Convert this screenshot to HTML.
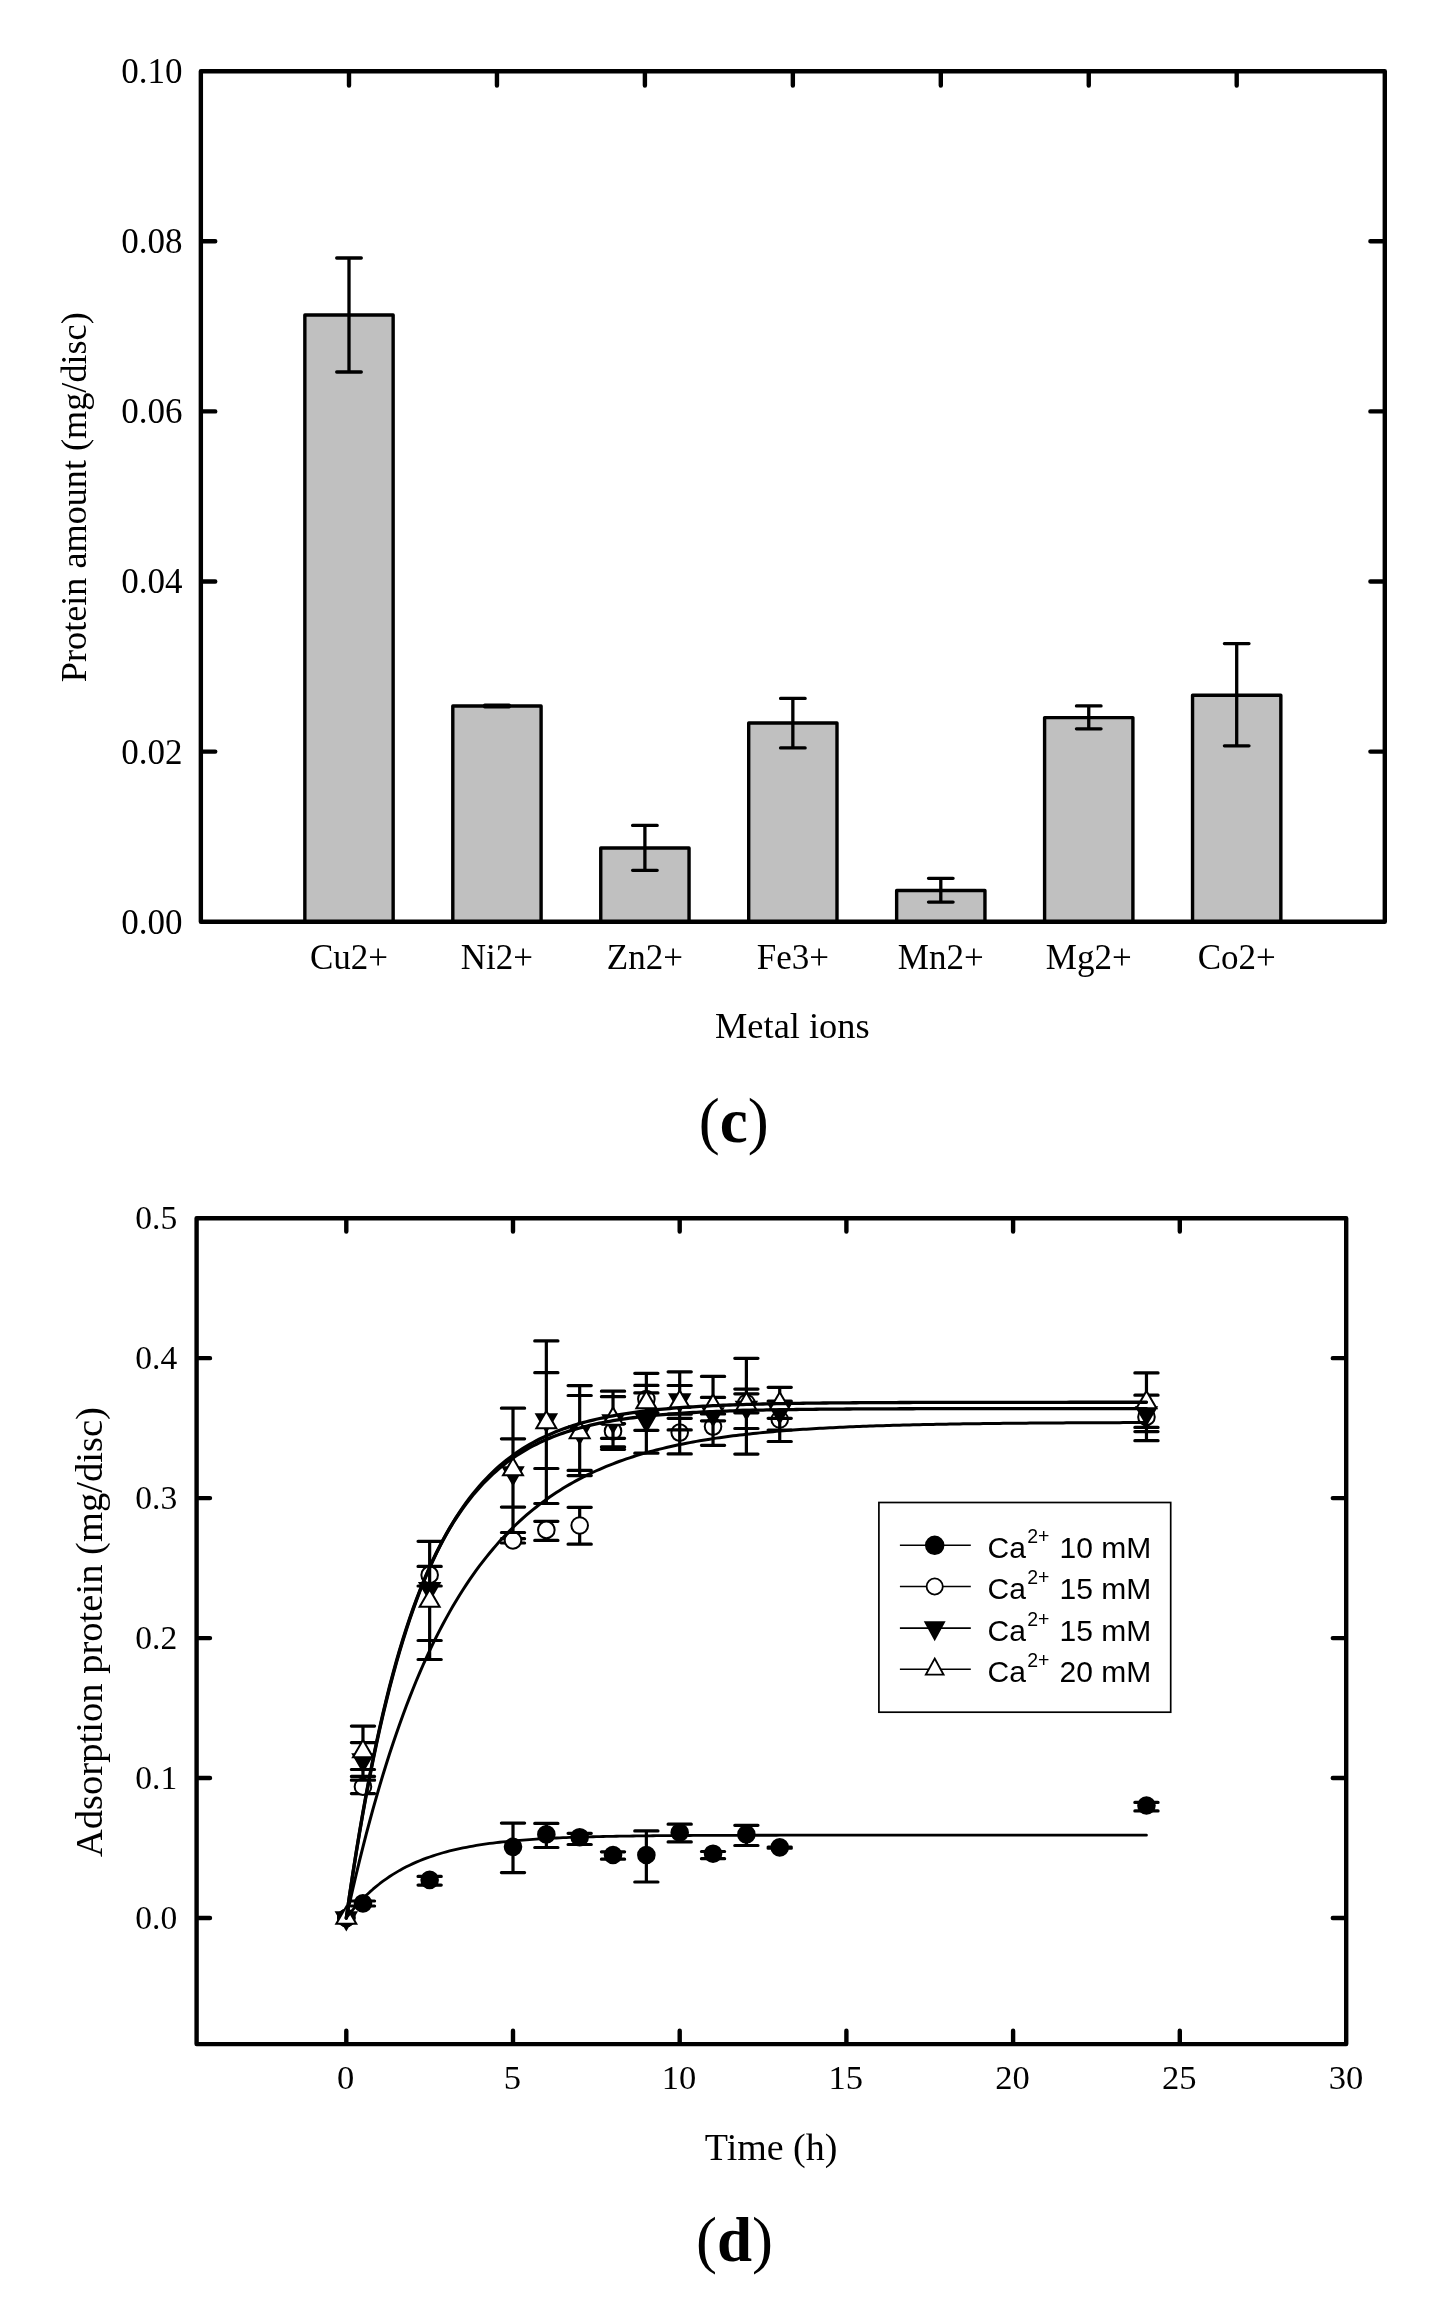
<!DOCTYPE html>
<html><head><meta charset="utf-8"><style>
html,body{margin:0;padding:0;background:#fff;}
svg{display:block;will-change:transform;}
</style></head><body>
<svg width="1452" height="2310" viewBox="0 0 1452 2310">
<rect width="1452" height="2310" fill="#fff"/>
<rect x="304.85" y="315.00" width="88.30" height="606.70" fill="#c0c0c0" stroke="#000" stroke-width="3.4" stroke-linejoin="round"/>
<rect x="452.80" y="706.00" width="88.30" height="215.70" fill="#c0c0c0" stroke="#000" stroke-width="3.4" stroke-linejoin="round"/>
<rect x="600.75" y="848.00" width="88.30" height="73.70" fill="#c0c0c0" stroke="#000" stroke-width="3.4" stroke-linejoin="round"/>
<rect x="748.70" y="723.00" width="88.30" height="198.70" fill="#c0c0c0" stroke="#000" stroke-width="3.4" stroke-linejoin="round"/>
<rect x="896.65" y="890.50" width="88.30" height="31.20" fill="#c0c0c0" stroke="#000" stroke-width="3.4" stroke-linejoin="round"/>
<rect x="1044.60" y="717.60" width="88.30" height="204.10" fill="#c0c0c0" stroke="#000" stroke-width="3.4" stroke-linejoin="round"/>
<rect x="1192.55" y="695.30" width="88.30" height="226.40" fill="#c0c0c0" stroke="#000" stroke-width="3.4" stroke-linejoin="round"/>
<path d="M349.00 258.00V372.00M336.70 258.00H361.30M336.70 372.00H361.30" stroke="#000" stroke-width="3.3" stroke-linecap="round" fill="none"/>
<path d="M496.95 705.20V706.80M484.65 705.20H509.25M484.65 706.80H509.25" stroke="#000" stroke-width="3.3" stroke-linecap="round" fill="none"/>
<path d="M644.90 825.40V870.30M632.60 825.40H657.20M632.60 870.30H657.20" stroke="#000" stroke-width="3.3" stroke-linecap="round" fill="none"/>
<path d="M792.85 698.40V747.90M780.55 698.40H805.15M780.55 747.90H805.15" stroke="#000" stroke-width="3.3" stroke-linecap="round" fill="none"/>
<path d="M940.80 878.30V902.10M928.50 878.30H953.10M928.50 902.10H953.10" stroke="#000" stroke-width="3.3" stroke-linecap="round" fill="none"/>
<path d="M1088.75 705.90V728.80M1076.45 705.90H1101.05M1076.45 728.80H1101.05" stroke="#000" stroke-width="3.3" stroke-linecap="round" fill="none"/>
<path d="M1236.70 643.60V745.80M1224.40 643.60H1249.00M1224.40 745.80H1249.00" stroke="#000" stroke-width="3.3" stroke-linecap="round" fill="none"/>
<rect x="200.85" y="71.2" width="1183.95" height="850.50" fill="none" stroke="#000" stroke-width="4.4" stroke-linejoin="round"/>
<path d="M202.95 751.60h12.3M1382.7 751.60h-12.3M202.95 581.50h12.3M1382.7 581.50h-12.3M202.95 411.40h12.3M1382.7 411.40h-12.3M202.95 241.30h12.3M1382.7 241.30h-12.3M349.00 73.3v12.3M496.95 73.3v12.3M644.90 73.3v12.3M792.85 73.3v12.3M940.80 73.3v12.3M1088.75 73.3v12.3M1236.70 73.3v12.3" stroke="#000" stroke-width="4.4" stroke-linecap="round" fill="none"/>
<text x="182.6" y="933.60" text-anchor="end" style="font-family:'Liberation Serif',serif;font-size:35px">0.00</text>
<text x="182.6" y="763.50" text-anchor="end" style="font-family:'Liberation Serif',serif;font-size:35px">0.02</text>
<text x="182.6" y="593.40" text-anchor="end" style="font-family:'Liberation Serif',serif;font-size:35px">0.04</text>
<text x="182.6" y="423.30" text-anchor="end" style="font-family:'Liberation Serif',serif;font-size:35px">0.06</text>
<text x="182.6" y="253.20" text-anchor="end" style="font-family:'Liberation Serif',serif;font-size:35px">0.08</text>
<text x="182.6" y="83.10" text-anchor="end" style="font-family:'Liberation Serif',serif;font-size:35px">0.10</text>
<text x="349.00" y="969" text-anchor="middle" style="font-family:'Liberation Serif',serif;font-size:35px">Cu2+</text>
<text x="496.95" y="969" text-anchor="middle" style="font-family:'Liberation Serif',serif;font-size:35px">Ni2+</text>
<text x="644.90" y="969" text-anchor="middle" style="font-family:'Liberation Serif',serif;font-size:35px">Zn2+</text>
<text x="792.85" y="969" text-anchor="middle" style="font-family:'Liberation Serif',serif;font-size:35px">Fe3+</text>
<text x="940.80" y="969" text-anchor="middle" style="font-family:'Liberation Serif',serif;font-size:35px">Mn2+</text>
<text x="1088.75" y="969" text-anchor="middle" style="font-family:'Liberation Serif',serif;font-size:35px">Mg2+</text>
<text x="1236.70" y="969" text-anchor="middle" style="font-family:'Liberation Serif',serif;font-size:35px">Co2+</text>
<text x="792.35" y="1038.1" text-anchor="middle" style="font-family:'Liberation Serif',serif;font-size:36.4px">Metal ions</text>
<text transform="translate(86.0 497.2) rotate(-90)" text-anchor="middle" style="font-family:'Liberation Serif',serif;font-size:36.2px">Protein amount (mg/disc)</text>
<text x="733.75" y="1141.5" text-anchor="middle" style="font-family:'Liberation Serif',serif;font-size:63px">(<tspan font-weight="bold">c</tspan>)</text>
<rect x="196.6" y="1218.2" width="1149.60" height="825.90" fill="none" stroke="#000" stroke-width="4.4" stroke-linejoin="round"/>
<path d="M198.7 1918.00h11.3M1344.1000000000001 1918.00h-11.3M198.7 1778.04h11.3M1344.1000000000001 1778.04h-11.3M198.7 1638.08h11.3M1344.1000000000001 1638.08h-11.3M198.7 1498.12h11.3M1344.1000000000001 1498.12h-11.3M198.7 1358.16h11.3M1344.1000000000001 1358.16h-11.3M346.30 2042.0v-11.3M346.30 1220.3v11.3M513.00 2042.0v-11.3M513.00 1220.3v11.3M679.70 2042.0v-11.3M679.70 1220.3v11.3M846.40 2042.0v-11.3M846.40 1220.3v11.3M1013.10 2042.0v-11.3M1013.10 1220.3v11.3M1179.80 2042.0v-11.3M1179.80 1220.3v11.3" stroke="#000" stroke-width="4.4" stroke-linecap="round" fill="none"/>
<text x="177.2" y="1929.20" text-anchor="end" style="font-family:'Liberation Serif',serif;font-size:33.5px">0.0</text>
<text x="177.2" y="1789.24" text-anchor="end" style="font-family:'Liberation Serif',serif;font-size:33.5px">0.1</text>
<text x="177.2" y="1649.28" text-anchor="end" style="font-family:'Liberation Serif',serif;font-size:33.5px">0.2</text>
<text x="177.2" y="1509.32" text-anchor="end" style="font-family:'Liberation Serif',serif;font-size:33.5px">0.3</text>
<text x="177.2" y="1369.36" text-anchor="end" style="font-family:'Liberation Serif',serif;font-size:33.5px">0.4</text>
<text x="177.2" y="1229.40" text-anchor="end" style="font-family:'Liberation Serif',serif;font-size:33.5px">0.5</text>
<text x="345.70" y="2089.2" text-anchor="middle" style="font-family:'Liberation Serif',serif;font-size:34.5px">0</text>
<text x="512.40" y="2089.2" text-anchor="middle" style="font-family:'Liberation Serif',serif;font-size:34.5px">5</text>
<text x="679.10" y="2089.2" text-anchor="middle" style="font-family:'Liberation Serif',serif;font-size:34.5px">10</text>
<text x="845.80" y="2089.2" text-anchor="middle" style="font-family:'Liberation Serif',serif;font-size:34.5px">15</text>
<text x="1012.50" y="2089.2" text-anchor="middle" style="font-family:'Liberation Serif',serif;font-size:34.5px">20</text>
<text x="1179.20" y="2089.2" text-anchor="middle" style="font-family:'Liberation Serif',serif;font-size:34.5px">25</text>
<text x="1345.90" y="2089.2" text-anchor="middle" style="font-family:'Liberation Serif',serif;font-size:34.5px">30</text>
<text x="771.1" y="2159.6" text-anchor="middle" style="font-family:'Liberation Serif',serif;font-size:38px">Time (h)</text>
<text transform="translate(101.9 1632.1) rotate(-90)" text-anchor="middle" style="font-family:'Liberation Serif',serif;font-size:38.6px">Adsorption protein (mg/disc)</text>
<text x="734.4" y="2261" text-anchor="middle" style="font-family:'Liberation Serif',serif;font-size:63px">(<tspan font-weight="bold">d</tspan>)</text>
<path d="M362.97 1901.00V1906.00M351.37 1901.00H374.57M351.37 1906.00H374.57M429.65 1876.40V1885.10M418.05 1876.40H441.25M418.05 1885.10H441.25M513.00 1823.10V1872.60M501.40 1823.10H524.60M501.40 1872.60H524.60M546.34 1823.40V1847.50M534.74 1823.40H557.94M534.74 1847.50H557.94M579.68 1833.30V1844.50M568.08 1833.30H591.28M568.08 1844.50H591.28M613.02 1851.80V1859.20M601.42 1851.80H624.62M601.42 1859.20H624.62M646.36 1830.90V1882.00M634.76 1830.90H657.96M634.76 1882.00H657.96M679.70 1824.20V1841.90M668.10 1824.20H691.30M668.10 1841.90H691.30M713.04 1851.50V1858.70M701.44 1851.50H724.64M701.44 1858.70H724.64M746.38 1825.30V1845.50M734.78 1825.30H757.98M734.78 1845.50H757.98M779.72 1847.20V1848.20M768.12 1847.20H791.32M768.12 1848.20H791.32M1146.46 1802.40V1810.90M1134.86 1802.40H1158.06M1134.86 1810.90H1158.06" stroke="#000" stroke-width="3.2" stroke-linecap="round" fill="none"/>
<circle cx="346.30" cy="1918.00" r="8.3" fill="#000" stroke="#000" stroke-width="2"/>
<circle cx="362.97" cy="1903.40" r="8.3" fill="#000" stroke="#000" stroke-width="2"/>
<circle cx="429.65" cy="1879.90" r="8.3" fill="#000" stroke="#000" stroke-width="2"/>
<circle cx="513.00" cy="1846.80" r="8.3" fill="#000" stroke="#000" stroke-width="2"/>
<circle cx="546.34" cy="1834.40" r="8.3" fill="#000" stroke="#000" stroke-width="2"/>
<circle cx="579.68" cy="1837.20" r="8.3" fill="#000" stroke="#000" stroke-width="2"/>
<circle cx="613.02" cy="1855.00" r="8.3" fill="#000" stroke="#000" stroke-width="2"/>
<circle cx="646.36" cy="1855.00" r="8.3" fill="#000" stroke="#000" stroke-width="2"/>
<circle cx="679.70" cy="1832.50" r="8.3" fill="#000" stroke="#000" stroke-width="2"/>
<circle cx="713.04" cy="1853.70" r="8.3" fill="#000" stroke="#000" stroke-width="2"/>
<circle cx="746.38" cy="1834.40" r="8.3" fill="#000" stroke="#000" stroke-width="2"/>
<circle cx="779.72" cy="1847.40" r="8.3" fill="#000" stroke="#000" stroke-width="2"/>
<circle cx="1146.46" cy="1805.50" r="8.3" fill="#000" stroke="#000" stroke-width="2"/>
<path d="M362.97 1776.40V1793.60M351.37 1776.40H374.57M351.37 1793.60H374.57M429.65 1566.40V1586.00M418.05 1566.40H441.25M418.05 1586.00H441.25M513.00 1538.70V1543.00M501.40 1538.70H524.60M501.40 1543.00H524.60M546.34 1521.30V1540.40M534.74 1521.30H557.94M534.74 1540.40H557.94M579.68 1507.30V1544.20M568.08 1507.30H591.28M568.08 1544.20H591.28" stroke="#000" stroke-width="3.2" stroke-linecap="round" fill="none"/>
<circle cx="346.30" cy="1918.00" r="8.3" fill="#fff" stroke="#000" stroke-width="2"/>
<circle cx="362.97" cy="1786.70" r="8.3" fill="#fff" stroke="#000" stroke-width="2"/>
<circle cx="429.65" cy="1574.90" r="8.3" fill="#fff" stroke="#000" stroke-width="2"/>
<circle cx="513.00" cy="1540.40" r="8.3" fill="#fff" stroke="#000" stroke-width="2"/>
<circle cx="546.34" cy="1529.90" r="8.3" fill="#fff" stroke="#000" stroke-width="2"/>
<circle cx="579.68" cy="1525.50" r="8.3" fill="#fff" stroke="#000" stroke-width="2"/>
<circle cx="613.02" cy="1431.20" r="8.3" fill="#fff" stroke="#000" stroke-width="2"/>
<circle cx="646.36" cy="1399.00" r="8.3" fill="#fff" stroke="#000" stroke-width="2"/>
<circle cx="679.70" cy="1432.60" r="8.3" fill="#fff" stroke="#000" stroke-width="2"/>
<circle cx="713.04" cy="1426.60" r="8.3" fill="#fff" stroke="#000" stroke-width="2"/>
<circle cx="746.38" cy="1403.00" r="8.3" fill="#fff" stroke="#000" stroke-width="2"/>
<circle cx="779.72" cy="1419.50" r="8.3" fill="#fff" stroke="#000" stroke-width="2"/>
<circle cx="1146.46" cy="1416.90" r="8.3" fill="#fff" stroke="#000" stroke-width="2"/>
<path d="M362.97 1726.10V1769.50M351.37 1726.10H374.57M351.37 1769.50H374.57M362.97 1742.60V1780.20M351.37 1742.60H374.57M351.37 1780.20H374.57M429.65 1541.30V1659.50M418.05 1541.30H441.25M418.05 1659.50H441.25M429.65 1541.30V1640.50M418.05 1541.30H441.25M418.05 1640.50H441.25M513.00 1408.20V1532.50M501.40 1408.20H524.60M501.40 1532.50H524.60M513.00 1438.80V1507.10M501.40 1438.80H524.60M501.40 1507.10H524.60M546.34 1340.90V1503.50M534.74 1340.90H557.94M534.74 1503.50H557.94M546.34 1372.70V1468.50M534.74 1372.70H557.94M534.74 1468.50H557.94M579.68 1385.60V1475.60M568.08 1385.60H591.28M568.08 1475.60H591.28M579.68 1395.50V1470.40M568.08 1395.50H591.28M568.08 1470.40H591.28M613.02 1391.20V1446.90M601.42 1391.20H624.62M601.42 1446.90H624.62M613.02 1396.70V1449.30M601.42 1396.70H624.62M601.42 1449.30H624.62M613.02 1423.70V1438.30M601.42 1423.70H624.62M601.42 1438.30H624.62M646.36 1373.30V1430.30M634.76 1373.30H657.96M634.76 1430.30H657.96M646.36 1385.40V1412.60M634.76 1385.40H657.96M634.76 1412.60H657.96M646.36 1392.90V1453.20M634.76 1392.90H657.96M634.76 1453.20H657.96M679.70 1371.80V1429.90M668.10 1371.80H691.30M668.10 1429.90H691.30M679.70 1385.50V1418.30M668.10 1385.50H691.30M668.10 1418.30H691.30M679.70 1414.20V1453.90M668.10 1414.20H691.30M668.10 1453.90H691.30M713.04 1376.40V1420.80M701.44 1376.40H724.64M701.44 1420.80H724.64M713.04 1397.40V1445.30M701.44 1397.40H724.64M701.44 1445.30H724.64M713.04 1413.90V1413.90M701.44 1413.90H724.64M701.44 1413.90H724.64M746.38 1358.30V1454.10M734.78 1358.30H757.98M734.78 1454.10H757.98M746.38 1389.10V1428.50M734.78 1389.10H757.98M734.78 1428.50H757.98M746.38 1393.80V1412.80M734.78 1393.80H757.98M734.78 1412.80H757.98M779.72 1387.30V1418.30M768.12 1387.30H791.32M768.12 1418.30H791.32M779.72 1401.20V1430.00M768.12 1401.20H791.32M768.12 1430.00H791.32M779.72 1401.20V1441.50M768.12 1401.20H791.32M768.12 1441.50H791.32M1146.46 1372.90V1427.40M1134.86 1372.90H1158.06M1134.86 1427.40H1158.06M1146.46 1395.20V1431.60M1134.86 1395.20H1158.06M1134.86 1431.60H1158.06M1146.46 1395.20V1440.70M1134.86 1395.20H1158.06M1134.86 1440.70H1158.06" stroke="#000" stroke-width="3.2" stroke-linecap="round" fill="none"/>
<path d="M346.30 1929.40L356.30 1912.20L336.30 1912.20Z" fill="#000" stroke="#000" stroke-width="2"/>
<path d="M362.97 1771.40L372.97 1754.20L352.97 1754.20Z" fill="#000" stroke="#000" stroke-width="2"/>
<path d="M429.65 1600.20L439.65 1583.00L419.65 1583.00Z" fill="#000" stroke="#000" stroke-width="2"/>
<path d="M513.00 1484.40L523.00 1467.20L503.00 1467.20Z" fill="#000" stroke="#000" stroke-width="2"/>
<path d="M546.34 1431.40L556.34 1414.20L536.34 1414.20Z" fill="#000" stroke="#000" stroke-width="2"/>
<path d="M579.68 1443.40L589.68 1426.20L569.68 1426.20Z" fill="#000" stroke="#000" stroke-width="2"/>
<path d="M613.02 1432.40L623.02 1415.20L603.02 1415.20Z" fill="#000" stroke="#000" stroke-width="2"/>
<path d="M646.36 1431.40L656.36 1414.20L636.36 1414.20Z" fill="#000" stroke="#000" stroke-width="2"/>
<path d="M679.70 1411.40L689.70 1394.20L669.70 1394.20Z" fill="#000" stroke="#000" stroke-width="2"/>
<path d="M713.04 1425.40L723.04 1408.20L703.04 1408.20Z" fill="#000" stroke="#000" stroke-width="2"/>
<path d="M746.38 1419.00L756.38 1401.80L736.38 1401.80Z" fill="#000" stroke="#000" stroke-width="2"/>
<path d="M779.72 1422.90L789.72 1405.70L769.72 1405.70Z" fill="#000" stroke="#000" stroke-width="2"/>
<path d="M1146.46 1424.40L1156.46 1407.20L1136.46 1407.20Z" fill="#000" stroke="#000" stroke-width="2"/>
<path d="M346.30 1906.60L356.30 1923.80L336.30 1923.80Z" fill="#fff" stroke="#000" stroke-width="2"/>
<path d="M362.97 1740.10L372.97 1757.30L352.97 1757.30Z" fill="#fff" stroke="#000" stroke-width="2"/>
<path d="M429.65 1589.60L439.65 1606.80L419.65 1606.80Z" fill="#fff" stroke="#000" stroke-width="2"/>
<path d="M513.00 1458.10L523.00 1475.30L503.00 1475.30Z" fill="#fff" stroke="#000" stroke-width="2"/>
<path d="M546.34 1411.10L556.34 1428.30L536.34 1428.30Z" fill="#fff" stroke="#000" stroke-width="2"/>
<path d="M579.68 1421.10L589.68 1438.30L569.68 1438.30Z" fill="#fff" stroke="#000" stroke-width="2"/>
<path d="M613.02 1407.60L623.02 1424.80L603.02 1424.80Z" fill="#fff" stroke="#000" stroke-width="2"/>
<path d="M646.36 1391.10L656.36 1408.30L636.36 1408.30Z" fill="#fff" stroke="#000" stroke-width="2"/>
<path d="M679.70 1390.60L689.70 1407.80L669.70 1407.80Z" fill="#fff" stroke="#000" stroke-width="2"/>
<path d="M713.04 1394.60L723.04 1411.80L703.04 1411.80Z" fill="#fff" stroke="#000" stroke-width="2"/>
<path d="M746.38 1392.60L756.38 1409.80L736.38 1409.80Z" fill="#fff" stroke="#000" stroke-width="2"/>
<path d="M779.72 1392.30L789.72 1409.50L769.72 1409.50Z" fill="#fff" stroke="#000" stroke-width="2"/>
<path d="M1146.46 1391.10L1156.46 1408.30L1136.46 1408.30Z" fill="#fff" stroke="#000" stroke-width="2"/>
<path d="M346.30 1918.00 L349.63 1913.69 L352.97 1909.61 L356.30 1905.74 L359.64 1902.06 L362.97 1898.58 L366.30 1895.29 L369.64 1892.16 L372.97 1889.19 L376.31 1886.38 L379.64 1883.72 L382.97 1881.19 L386.31 1878.80 L389.64 1876.53 L392.98 1874.38 L396.31 1872.34 L399.64 1870.40 L402.98 1868.57 L406.31 1866.83 L409.65 1865.18 L412.98 1863.62 L416.31 1862.14 L419.65 1860.74 L422.98 1859.41 L426.32 1858.14 L429.65 1856.95 L432.98 1855.81 L436.32 1854.74 L439.65 1853.72 L442.99 1852.75 L446.32 1851.84 L449.65 1850.97 L452.99 1850.15 L456.32 1849.37 L459.66 1848.63 L462.99 1847.93 L466.32 1847.26 L469.66 1846.63 L472.99 1846.03 L476.33 1845.47 L479.66 1844.93 L482.99 1844.42 L486.33 1843.94 L489.66 1843.48 L493.00 1843.05 L496.33 1842.64 L499.66 1842.25 L503.00 1841.88 L506.33 1841.53 L509.67 1841.20 L513.00 1840.88 L516.33 1840.58 L519.67 1840.30 L523.00 1840.03 L526.34 1839.78 L529.67 1839.54 L533.00 1839.31 L536.34 1839.09 L539.67 1838.89 L543.01 1838.69 L546.34 1838.51 L549.67 1838.33 L553.01 1838.17 L556.34 1838.01 L559.68 1837.86 L563.01 1837.72 L566.34 1837.59 L569.68 1837.46 L573.01 1837.34 L576.35 1837.22 L579.68 1837.12 L583.01 1837.01 L586.35 1836.92 L589.68 1836.82 L593.02 1836.74 L596.35 1836.65 L599.68 1836.58 L603.02 1836.50 L606.35 1836.43 L609.69 1836.36 L613.02 1836.30 L616.35 1836.24 L619.69 1836.18 L623.02 1836.13 L626.36 1836.08 L629.69 1836.03 L633.02 1835.98 L636.36 1835.94 L639.69 1835.90 L643.03 1835.86 L646.36 1835.82 L649.69 1835.79 L653.03 1835.75 L656.36 1835.72 L659.70 1835.69 L663.03 1835.66 L666.36 1835.64 L669.70 1835.61 L673.03 1835.59 L676.37 1835.56 L679.70 1835.54 L683.03 1835.52 L686.37 1835.50 L689.70 1835.48 L693.04 1835.46 L696.37 1835.45 L699.70 1835.43 L703.04 1835.42 L706.37 1835.40 L709.71 1835.39 L713.04 1835.38 L716.37 1835.36 L719.71 1835.35 L723.04 1835.34 L726.38 1835.33 L729.71 1835.32 L733.04 1835.31 L736.38 1835.30 L739.71 1835.30 L743.05 1835.29 L746.38 1835.28 L749.71 1835.27 L753.05 1835.27 L756.38 1835.26 L759.72 1835.25 L763.05 1835.25 L766.38 1835.24 L769.72 1835.24 L773.05 1835.23 L776.39 1835.23 L779.72 1835.22 L783.05 1835.22 L786.39 1835.22 L789.72 1835.21 L793.06 1835.21 L796.39 1835.20 L799.72 1835.20 L803.06 1835.20 L806.39 1835.20 L809.73 1835.19 L813.06 1835.19 L816.39 1835.19 L819.73 1835.19 L823.06 1835.18 L826.40 1835.18 L829.73 1835.18 L833.06 1835.18 L836.40 1835.18 L839.73 1835.17 L843.07 1835.17 L846.40 1835.17 L849.73 1835.17 L853.07 1835.17 L856.40 1835.17 L859.74 1835.17 L863.07 1835.16 L866.40 1835.16 L869.74 1835.16 L873.07 1835.16 L876.41 1835.16 L879.74 1835.16 L883.07 1835.16 L886.41 1835.16 L889.74 1835.16 L893.08 1835.16 L896.41 1835.16 L899.74 1835.16 L903.08 1835.15 L906.41 1835.15 L909.75 1835.15 L913.08 1835.15 L916.41 1835.15 L919.75 1835.15 L923.08 1835.15 L926.42 1835.15 L929.75 1835.15 L933.08 1835.15 L936.42 1835.15 L939.75 1835.15 L943.09 1835.15 L946.42 1835.15 L949.75 1835.15 L953.09 1835.15 L956.42 1835.15 L959.76 1835.15 L963.09 1835.15 L966.42 1835.15 L969.76 1835.15 L973.09 1835.15 L976.43 1835.15 L979.76 1835.15 L983.09 1835.15 L986.43 1835.15 L989.76 1835.15 L993.10 1835.15 L996.43 1835.15 L999.76 1835.15 L1003.10 1835.15 L1006.43 1835.15 L1009.77 1835.15 L1013.10 1835.15 L1016.43 1835.15 L1019.77 1835.15 L1023.10 1835.15 L1026.44 1835.15 L1029.77 1835.15 L1033.10 1835.15 L1036.44 1835.14 L1039.77 1835.14 L1043.11 1835.14 L1046.44 1835.14 L1049.77 1835.14 L1053.11 1835.14 L1056.44 1835.14 L1059.78 1835.14 L1063.11 1835.14 L1066.44 1835.14 L1069.78 1835.14 L1073.11 1835.14 L1076.45 1835.14 L1079.78 1835.14 L1083.11 1835.14 L1086.45 1835.14 L1089.78 1835.14 L1093.12 1835.14 L1096.45 1835.14 L1099.78 1835.14 L1103.12 1835.14 L1106.45 1835.14 L1109.79 1835.14 L1113.12 1835.14 L1116.45 1835.14 L1119.79 1835.14 L1123.12 1835.14 L1126.46 1835.14 L1129.79 1835.14 L1133.12 1835.14 L1136.46 1835.14 L1139.79 1835.14 L1143.13 1835.14 L1146.46 1835.14" stroke="#000" stroke-width="2.8" fill="none" stroke-linecap="round" stroke-linejoin="round"/>
<path d="M346.30 1918.00 L349.63 1895.06 L352.97 1873.14 L356.30 1852.19 L359.64 1832.18 L362.97 1813.06 L366.30 1794.78 L369.64 1777.32 L372.97 1760.64 L376.31 1744.70 L379.64 1729.47 L382.97 1714.91 L386.31 1701.00 L389.64 1687.71 L392.98 1675.02 L396.31 1662.88 L399.64 1651.29 L402.98 1640.21 L406.31 1629.63 L409.65 1619.51 L412.98 1609.85 L416.31 1600.62 L419.65 1591.79 L422.98 1583.36 L426.32 1575.31 L429.65 1567.61 L432.98 1560.25 L436.32 1553.22 L439.65 1546.51 L442.99 1540.09 L446.32 1533.96 L449.65 1528.10 L452.99 1522.50 L456.32 1517.15 L459.66 1512.04 L462.99 1507.16 L466.32 1502.49 L469.66 1498.03 L472.99 1493.77 L476.33 1489.70 L479.66 1485.81 L482.99 1482.10 L486.33 1478.54 L489.66 1475.15 L493.00 1471.91 L496.33 1468.81 L499.66 1465.85 L503.00 1463.02 L506.33 1460.32 L509.67 1457.73 L513.00 1455.27 L516.33 1452.91 L519.67 1450.65 L523.00 1448.50 L526.34 1446.44 L529.67 1444.48 L533.00 1442.60 L536.34 1440.80 L539.67 1439.09 L543.01 1437.45 L546.34 1435.88 L549.67 1434.39 L553.01 1432.96 L556.34 1431.59 L559.68 1430.29 L563.01 1429.04 L566.34 1427.85 L569.68 1426.71 L573.01 1425.62 L576.35 1424.58 L579.68 1423.59 L583.01 1422.64 L586.35 1421.73 L589.68 1420.87 L593.02 1420.04 L596.35 1419.25 L599.68 1418.49 L603.02 1417.77 L606.35 1417.08 L609.69 1416.42 L613.02 1415.79 L616.35 1415.18 L619.69 1414.61 L623.02 1414.06 L626.36 1413.53 L629.69 1413.03 L633.02 1412.55 L636.36 1412.09 L639.69 1411.66 L643.03 1411.24 L646.36 1410.84 L649.69 1410.46 L653.03 1410.09 L656.36 1409.74 L659.70 1409.41 L663.03 1409.09 L666.36 1408.79 L669.70 1408.49 L673.03 1408.22 L676.37 1407.95 L679.70 1407.70 L683.03 1407.46 L686.37 1407.22 L689.70 1407.00 L693.04 1406.79 L696.37 1406.59 L699.70 1406.40 L703.04 1406.21 L706.37 1406.03 L709.71 1405.87 L713.04 1405.71 L716.37 1405.55 L719.71 1405.40 L723.04 1405.26 L726.38 1405.13 L729.71 1405.00 L733.04 1404.88 L736.38 1404.76 L739.71 1404.65 L743.05 1404.54 L746.38 1404.44 L749.71 1404.34 L753.05 1404.25 L756.38 1404.16 L759.72 1404.08 L763.05 1403.99 L766.38 1403.92 L769.72 1403.84 L773.05 1403.77 L776.39 1403.70 L779.72 1403.64 L783.05 1403.58 L786.39 1403.52 L789.72 1403.46 L793.06 1403.41 L796.39 1403.36 L799.72 1403.31 L803.06 1403.26 L806.39 1403.21 L809.73 1403.17 L813.06 1403.13 L816.39 1403.09 L819.73 1403.05 L823.06 1403.02 L826.40 1402.98 L829.73 1402.95 L833.06 1402.92 L836.40 1402.89 L839.73 1402.86 L843.07 1402.83 L846.40 1402.81 L849.73 1402.78 L853.07 1402.76 L856.40 1402.74 L859.74 1402.71 L863.07 1402.69 L866.40 1402.67 L869.74 1402.65 L873.07 1402.64 L876.41 1402.62 L879.74 1402.60 L883.07 1402.59 L886.41 1402.57 L889.74 1402.56 L893.08 1402.54 L896.41 1402.53 L899.74 1402.52 L903.08 1402.51 L906.41 1402.49 L909.75 1402.48 L913.08 1402.47 L916.41 1402.46 L919.75 1402.45 L923.08 1402.44 L926.42 1402.44 L929.75 1402.43 L933.08 1402.42 L936.42 1402.41 L939.75 1402.40 L943.09 1402.40 L946.42 1402.39 L949.75 1402.38 L953.09 1402.38 L956.42 1402.37 L959.76 1402.37 L963.09 1402.36 L966.42 1402.36 L969.76 1402.35 L973.09 1402.35 L976.43 1402.34 L979.76 1402.34 L983.09 1402.33 L986.43 1402.33 L989.76 1402.33 L993.10 1402.32 L996.43 1402.32 L999.76 1402.32 L1003.10 1402.31 L1006.43 1402.31 L1009.77 1402.31 L1013.10 1402.30 L1016.43 1402.30 L1019.77 1402.30 L1023.10 1402.30 L1026.44 1402.30 L1029.77 1402.29 L1033.10 1402.29 L1036.44 1402.29 L1039.77 1402.29 L1043.11 1402.29 L1046.44 1402.28 L1049.77 1402.28 L1053.11 1402.28 L1056.44 1402.28 L1059.78 1402.28 L1063.11 1402.28 L1066.44 1402.28 L1069.78 1402.27 L1073.11 1402.27 L1076.45 1402.27 L1079.78 1402.27 L1083.11 1402.27 L1086.45 1402.27 L1089.78 1402.27 L1093.12 1402.27 L1096.45 1402.27 L1099.78 1402.27 L1103.12 1402.26 L1106.45 1402.26 L1109.79 1402.26 L1113.12 1402.26 L1116.45 1402.26 L1119.79 1402.26 L1123.12 1402.26 L1126.46 1402.26 L1129.79 1402.26 L1133.12 1402.26 L1136.46 1402.26 L1139.79 1402.26 L1143.13 1402.26 L1146.46 1402.26" stroke="#000" stroke-width="3.3" fill="none" stroke-linecap="round" stroke-linejoin="round"/>
<path d="M346.30 1918.00 L349.63 1894.77 L352.97 1872.60 L356.30 1851.44 L359.64 1831.24 L362.97 1811.97 L366.30 1793.58 L369.64 1776.02 L372.97 1759.26 L376.31 1743.27 L379.64 1728.01 L382.97 1713.44 L386.31 1699.54 L389.64 1686.27 L392.98 1673.61 L396.31 1661.52 L399.64 1649.99 L402.98 1638.98 L406.31 1628.47 L409.65 1618.44 L412.98 1608.87 L416.31 1599.74 L419.65 1591.02 L422.98 1582.70 L426.32 1574.76 L429.65 1567.18 L432.98 1559.94 L436.32 1553.04 L439.65 1546.45 L442.99 1540.16 L446.32 1534.16 L449.65 1528.44 L452.99 1522.97 L456.32 1517.75 L459.66 1512.77 L462.99 1508.02 L466.32 1503.48 L469.66 1499.15 L472.99 1495.02 L476.33 1491.08 L479.66 1487.32 L482.99 1483.72 L486.33 1480.30 L489.66 1477.02 L493.00 1473.90 L496.33 1470.92 L499.66 1468.08 L503.00 1465.36 L506.33 1462.77 L509.67 1460.30 L513.00 1457.94 L516.33 1455.69 L519.67 1453.54 L523.00 1451.49 L526.34 1449.53 L529.67 1447.66 L533.00 1445.88 L536.34 1444.17 L539.67 1442.55 L543.01 1441.00 L546.34 1439.52 L549.67 1438.11 L553.01 1436.76 L556.34 1435.47 L559.68 1434.24 L563.01 1433.07 L566.34 1431.95 L569.68 1430.89 L573.01 1429.87 L576.35 1428.90 L579.68 1427.97 L583.01 1427.08 L586.35 1426.24 L589.68 1425.43 L593.02 1424.66 L596.35 1423.93 L599.68 1423.22 L603.02 1422.56 L606.35 1421.92 L609.69 1421.31 L613.02 1420.72 L616.35 1420.17 L619.69 1419.64 L623.02 1419.13 L626.36 1418.65 L629.69 1418.19 L633.02 1417.75 L636.36 1417.33 L639.69 1416.93 L643.03 1416.55 L646.36 1416.18 L649.69 1415.83 L653.03 1415.50 L656.36 1415.19 L659.70 1414.88 L663.03 1414.59 L666.36 1414.32 L669.70 1414.05 L673.03 1413.80 L676.37 1413.56 L679.70 1413.33 L683.03 1413.12 L686.37 1412.91 L689.70 1412.71 L693.04 1412.52 L696.37 1412.34 L699.70 1412.17 L703.04 1412.00 L706.37 1411.84 L709.71 1411.69 L713.04 1411.55 L716.37 1411.41 L719.71 1411.28 L723.04 1411.16 L726.38 1411.04 L729.71 1410.92 L733.04 1410.82 L736.38 1410.71 L739.71 1410.61 L743.05 1410.52 L746.38 1410.43 L749.71 1410.34 L753.05 1410.26 L756.38 1410.18 L759.72 1410.11 L763.05 1410.04 L766.38 1409.97 L769.72 1409.90 L773.05 1409.84 L776.39 1409.78 L779.72 1409.73 L783.05 1409.67 L786.39 1409.62 L789.72 1409.57 L793.06 1409.53 L796.39 1409.48 L799.72 1409.44 L803.06 1409.40 L806.39 1409.36 L809.73 1409.32 L813.06 1409.29 L816.39 1409.25 L819.73 1409.22 L823.06 1409.19 L826.40 1409.16 L829.73 1409.13 L833.06 1409.11 L836.40 1409.08 L839.73 1409.06 L843.07 1409.03 L846.40 1409.01 L849.73 1408.99 L853.07 1408.97 L856.40 1408.95 L859.74 1408.93 L863.07 1408.91 L866.40 1408.90 L869.74 1408.88 L873.07 1408.87 L876.41 1408.85 L879.74 1408.84 L883.07 1408.82 L886.41 1408.81 L889.74 1408.80 L893.08 1408.79 L896.41 1408.78 L899.74 1408.77 L903.08 1408.76 L906.41 1408.75 L909.75 1408.74 L913.08 1408.73 L916.41 1408.72 L919.75 1408.71 L923.08 1408.70 L926.42 1408.70 L929.75 1408.69 L933.08 1408.68 L936.42 1408.68 L939.75 1408.67 L943.09 1408.67 L946.42 1408.66 L949.75 1408.65 L953.09 1408.65 L956.42 1408.65 L959.76 1408.64 L963.09 1408.64 L966.42 1408.63 L969.76 1408.63 L973.09 1408.62 L976.43 1408.62 L979.76 1408.62 L983.09 1408.61 L986.43 1408.61 L989.76 1408.61 L993.10 1408.61 L996.43 1408.60 L999.76 1408.60 L1003.10 1408.60 L1006.43 1408.60 L1009.77 1408.59 L1013.10 1408.59 L1016.43 1408.59 L1019.77 1408.59 L1023.10 1408.58 L1026.44 1408.58 L1029.77 1408.58 L1033.10 1408.58 L1036.44 1408.58 L1039.77 1408.58 L1043.11 1408.58 L1046.44 1408.57 L1049.77 1408.57 L1053.11 1408.57 L1056.44 1408.57 L1059.78 1408.57 L1063.11 1408.57 L1066.44 1408.57 L1069.78 1408.57 L1073.11 1408.57 L1076.45 1408.56 L1079.78 1408.56 L1083.11 1408.56 L1086.45 1408.56 L1089.78 1408.56 L1093.12 1408.56 L1096.45 1408.56 L1099.78 1408.56 L1103.12 1408.56 L1106.45 1408.56 L1109.79 1408.56 L1113.12 1408.56 L1116.45 1408.56 L1119.79 1408.56 L1123.12 1408.56 L1126.46 1408.55 L1129.79 1408.55 L1133.12 1408.55 L1136.46 1408.55 L1139.79 1408.55 L1143.13 1408.55 L1146.46 1408.55" stroke="#000" stroke-width="3.3" fill="none" stroke-linecap="round" stroke-linejoin="round"/>
<path d="M346.30 1918.00 L349.63 1902.87 L352.97 1888.20 L356.30 1873.98 L359.64 1860.19 L362.97 1846.82 L366.30 1833.86 L369.64 1821.30 L372.97 1809.12 L376.31 1797.31 L379.64 1785.86 L382.97 1774.76 L386.31 1764.00 L389.64 1753.57 L392.98 1743.46 L396.31 1733.65 L399.64 1724.15 L402.98 1714.93 L406.31 1706.00 L409.65 1697.34 L412.98 1688.94 L416.31 1680.80 L419.65 1672.91 L422.98 1665.26 L426.32 1657.84 L429.65 1650.65 L432.98 1643.68 L436.32 1636.92 L439.65 1630.37 L442.99 1624.02 L446.32 1617.86 L449.65 1611.89 L452.99 1606.10 L456.32 1600.49 L459.66 1595.05 L462.99 1589.77 L466.32 1584.66 L469.66 1579.70 L472.99 1574.90 L476.33 1570.24 L479.66 1565.72 L482.99 1561.34 L486.33 1557.10 L489.66 1552.98 L493.00 1548.99 L496.33 1545.12 L499.66 1541.37 L503.00 1537.74 L506.33 1534.21 L509.67 1530.79 L513.00 1527.48 L516.33 1524.27 L519.67 1521.16 L523.00 1518.14 L526.34 1515.21 L529.67 1512.37 L533.00 1509.62 L536.34 1506.96 L539.67 1504.37 L543.01 1501.86 L546.34 1499.43 L549.67 1497.08 L553.01 1494.80 L556.34 1492.58 L559.68 1490.43 L563.01 1488.35 L566.34 1486.34 L569.68 1484.38 L573.01 1482.48 L576.35 1480.65 L579.68 1478.86 L583.01 1477.14 L586.35 1475.46 L589.68 1473.84 L593.02 1472.26 L596.35 1470.74 L599.68 1469.26 L603.02 1467.82 L606.35 1466.43 L609.69 1465.08 L613.02 1463.78 L616.35 1462.51 L619.69 1461.28 L623.02 1460.09 L626.36 1458.93 L629.69 1457.82 L633.02 1456.73 L636.36 1455.68 L639.69 1454.66 L643.03 1453.67 L646.36 1452.71 L649.69 1451.78 L653.03 1450.88 L656.36 1450.01 L659.70 1449.16 L663.03 1448.34 L666.36 1447.54 L669.70 1446.77 L673.03 1446.02 L676.37 1445.30 L679.70 1444.59 L683.03 1443.91 L686.37 1443.25 L689.70 1442.61 L693.04 1441.99 L696.37 1441.39 L699.70 1440.80 L703.04 1440.24 L706.37 1439.69 L709.71 1439.16 L713.04 1438.64 L716.37 1438.14 L719.71 1437.66 L723.04 1437.19 L726.38 1436.73 L729.71 1436.29 L733.04 1435.86 L736.38 1435.45 L739.71 1435.04 L743.05 1434.65 L746.38 1434.28 L749.71 1433.91 L753.05 1433.55 L756.38 1433.21 L759.72 1432.87 L763.05 1432.55 L766.38 1432.24 L769.72 1431.93 L773.05 1431.64 L776.39 1431.35 L779.72 1431.07 L783.05 1430.80 L786.39 1430.54 L789.72 1430.29 L793.06 1430.05 L796.39 1429.81 L799.72 1429.58 L803.06 1429.35 L806.39 1429.14 L809.73 1428.93 L813.06 1428.72 L816.39 1428.53 L819.73 1428.34 L823.06 1428.15 L826.40 1427.97 L829.73 1427.80 L833.06 1427.63 L836.40 1427.46 L839.73 1427.30 L843.07 1427.15 L846.40 1427.00 L849.73 1426.86 L853.07 1426.72 L856.40 1426.58 L859.74 1426.45 L863.07 1426.32 L866.40 1426.20 L869.74 1426.08 L873.07 1425.96 L876.41 1425.85 L879.74 1425.74 L883.07 1425.63 L886.41 1425.53 L889.74 1425.43 L893.08 1425.33 L896.41 1425.24 L899.74 1425.15 L903.08 1425.06 L906.41 1424.97 L909.75 1424.89 L913.08 1424.81 L916.41 1424.73 L919.75 1424.66 L923.08 1424.59 L926.42 1424.51 L929.75 1424.45 L933.08 1424.38 L936.42 1424.31 L939.75 1424.25 L943.09 1424.19 L946.42 1424.13 L949.75 1424.07 L953.09 1424.02 L956.42 1423.97 L959.76 1423.91 L963.09 1423.86 L966.42 1423.81 L969.76 1423.77 L973.09 1423.72 L976.43 1423.68 L979.76 1423.63 L983.09 1423.59 L986.43 1423.55 L989.76 1423.51 L993.10 1423.47 L996.43 1423.44 L999.76 1423.40 L1003.10 1423.37 L1006.43 1423.33 L1009.77 1423.30 L1013.10 1423.27 L1016.43 1423.24 L1019.77 1423.21 L1023.10 1423.18 L1026.44 1423.15 L1029.77 1423.12 L1033.10 1423.10 L1036.44 1423.07 L1039.77 1423.05 L1043.11 1423.02 L1046.44 1423.00 L1049.77 1422.98 L1053.11 1422.96 L1056.44 1422.93 L1059.78 1422.91 L1063.11 1422.89 L1066.44 1422.87 L1069.78 1422.86 L1073.11 1422.84 L1076.45 1422.82 L1079.78 1422.80 L1083.11 1422.79 L1086.45 1422.77 L1089.78 1422.75 L1093.12 1422.74 L1096.45 1422.73 L1099.78 1422.71 L1103.12 1422.70 L1106.45 1422.68 L1109.79 1422.67 L1113.12 1422.66 L1116.45 1422.65 L1119.79 1422.63 L1123.12 1422.62 L1126.46 1422.61 L1129.79 1422.60 L1133.12 1422.59 L1136.46 1422.58 L1139.79 1422.57 L1143.13 1422.56 L1146.46 1422.55" stroke="#000" stroke-width="3.0" fill="none" stroke-linecap="round" stroke-linejoin="round"/>
<rect x="878.9" y="1502.5" width="291.8" height="209.7" fill="#fff" stroke="#000" stroke-width="1.7"/>
<path d="M899.9 1545.3H970.8" stroke="#000" stroke-width="1.6"/>
<circle cx="934.7" cy="1545.3" r="9.0" fill="#000" stroke="#000" stroke-width="1.5"/>
<text x="987.5" y="1558.10" style="font-family:'Liberation Sans',sans-serif;font-size:30px">Ca<tspan dx="1.3" dy="-15.2" font-size="19.5px">2+</tspan><tspan dx="1.8" dy="15.2"> 10 mM</tspan></text>
<path d="M899.9 1586.5H970.8" stroke="#000" stroke-width="1.6"/>
<circle cx="934.7" cy="1586.5" r="8.1" fill="#fff" stroke="#000" stroke-width="1.8"/>
<text x="987.5" y="1599.30" style="font-family:'Liberation Sans',sans-serif;font-size:30px">Ca<tspan dx="1.3" dy="-15.2" font-size="19.5px">2+</tspan><tspan dx="1.8" dy="15.2"> 15 mM</tspan></text>
<path d="M899.9 1628.1H970.8" stroke="#000" stroke-width="1.6"/>
<path d="M934.7 1639.30L944.1 1622.20L925.3 1622.20Z" fill="#000" stroke="#000" stroke-width="1.8"/>
<text x="987.5" y="1640.90" style="font-family:'Liberation Sans',sans-serif;font-size:30px">Ca<tspan dx="1.3" dy="-15.2" font-size="19.5px">2+</tspan><tspan dx="1.8" dy="15.2"> 15 mM</tspan></text>
<path d="M899.9 1669.3H970.8" stroke="#000" stroke-width="1.6"/>
<path d="M934.7 1658.50L943.6 1674.70L925.8 1674.70Z" fill="#fff" stroke="#000" stroke-width="1.8"/>
<text x="987.5" y="1682.10" style="font-family:'Liberation Sans',sans-serif;font-size:30px">Ca<tspan dx="1.3" dy="-15.2" font-size="19.5px">2+</tspan><tspan dx="1.8" dy="15.2"> 20 mM</tspan></text>
</svg>
</body></html>
